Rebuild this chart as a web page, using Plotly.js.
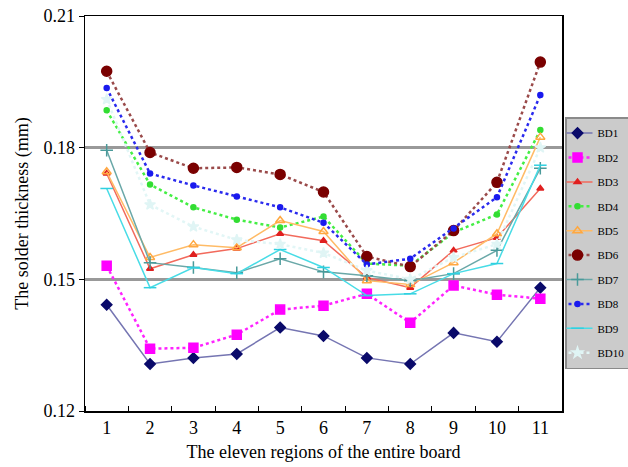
<!DOCTYPE html>
<html>
<head>
<meta charset="utf-8">
<script src="https://cdn.plot.ly/plotly-3.0.1.min.js"></script>
<style>html,body{margin:0;padding:0;background:#fff;}#chart{width:628px;height:467px;}</style>
</head>
<body>
<div id="chart"></div>
<script>
var regions = [1,2,3,4,5,6,7,8,9,10,11];
var seriesNames = ["BD1","BD2","BD3","BD4","BD5","BD6","BD7","BD8","BD9","BD10"];
var BD1  = [0.1442,0.1307,0.1321,0.1330,0.1390,0.1371,0.1321,0.1307,0.1378,0.1358,0.1481];
var BD2  = [0.1531,0.1342,0.1344,0.1374,0.1431,0.1440,0.1467,0.1401,0.1486,0.1465,0.1456];
var BD3  = [0.1741,0.1524,0.1556,0.1570,0.1604,0.1588,0.1504,0.1481,0.1566,0.1595,0.1707];
var BD4  = [0.1885,0.1716,0.1664,0.1636,0.1618,0.1643,0.1536,0.1531,0.1607,0.1648,0.1840];
var BD5  = [0.1745,0.1550,0.1579,0.1572,0.1634,0.1609,0.1497,0.1488,0.1538,0.1604,0.1824];
var BD6  = [0.1974,0.1789,0.1753,0.1755,0.1739,0.1699,0.1552,0.1529,0.1611,0.1721,0.1995];
var BD7  = [0.1794,0.1538,0.1527,0.1515,0.1547,0.1517,0.1508,0.1497,0.1513,0.1566,0.1753];
var BD8  = [0.1936,0.1741,0.1714,0.1689,0.1664,0.1629,0.1534,0.1547,0.1616,0.1687,0.1920];
var BD9  = [0.1707,0.1481,0.1527,0.1513,0.1568,0.1527,0.1463,0.1467,0.1513,0.1536,0.1760];
var BD10 = [0.1910,0.1670,0.1620,0.1590,0.1580,0.1560,0.1520,0.1500,0.1550,0.1580,0.1800];
var yTicks = [0.12,0.15,0.18,0.21];
var yTickText = ["0.12","0.15","0.18","0.21"];

var seriesValues = [BD1,BD2,BD3,BD4,BD5,BD6,BD7,BD8,BD9,BD10];
var styles = [
  {mc:'#0a0a6a', sym:'diamond', ms:8, lc:'#7575b2', dash:'solid', lw:1.5},
  {mc:'#ff00ff', sym:'square', ms:9, lc:'#ff22ff', dash:'dot', lw:2.5},
  {mc:'#e02020', sym:'triangle-up', ms:6, lc:'#f26a5c', dash:'solid', lw:1.5},
  {mc:'#33dd33', sym:'circle', ms:5, lc:'#44ee44', dash:'dot', lw:2.5},
  {mc:'#ffa840', sym:'triangle-up-open', ms:8, lc:'#ffbb66', dash:'solid', lw:1.5},
  {mc:'#7a0000', sym:'circle', ms:10, lc:'#9a4a4a', dash:'dot', lw:2.5},
  {mc:'#4a9a9a', sym:'cross-thin-open', ms:9, lc:'#6aa8a8', dash:'solid', lw:1.5},
  {mc:'#1a1aee', sym:'circle', ms:5, lc:'#2a2aee', dash:'dot', lw:2.5},
  {mc:'#30d0e0', sym:'line-ew-open', ms:9, lc:'#48dce6', dash:'solid', lw:1.5},
  {mc:'#e0f5f5', sym:'star', ms:8, lc:'#e2f6f6', dash:'dot', lw:2.5}
];

var traces = seriesNames.map(function(n,i){
  var s = styles[i];
  return {
    type:'scatter', mode:'lines+markers', name:n, legendgroup:n,
    x: regions, y: seriesValues[i],
    line:{color:s.lc, width:s.lw, dash:s.dash},
    marker:{color:s.mc, symbol:s.sym, size:s.ms, line:{color:s.mc, width:1.5}}
  };
});

var serif = '"Liberation Serif","Times New Roman",serif';
var layout = {
  width:628, height:467,
  margin:{l:85, r:66, t:16, b:56, autoexpand:false},
  paper_bgcolor:'#ffffff', plot_bgcolor:'#ffffff',
  font:{family:serif, color:'#000', size:18},
  showlegend:true,
  legend:{
    x:1.0063, xanchor:'left', y:0.744, yanchor:'top',
    bgcolor:'#cbcbcb', bordercolor:'#8a8a8a', borderwidth:1.5,
    font:{family:serif, size:11, color:'#000'},
    tracegroupgap:5.4, indentation:-9
  },
  xaxis:{
    range:[0.5,11.5], tickvals:regions, ticktext:regions.map(String),
    ticks:'', showgrid:false, zeroline:false,
    showline:true, linecolor:'#000', linewidth:1.5, mirror:true,
    tickfont:{family:serif, size:18, color:'#000'},
    minor:{tick0:0.5, dtick:1, ticks:'inside', ticklen:5, tickcolor:'#000', tickwidth:1, showgrid:false},
    title:{text:'The eleven regions of the entire board', font:{family:serif, size:18, color:'#000'}, standoff:8}
  },
  yaxis:{
    range:[0.12,0.21], tickvals:yTicks, ticktext:yTickText,
    ticks:'outside', ticklen:5, tickcolor:'#000', tickwidth:1,
    showgrid:true, gridcolor:'#999999', gridwidth:2.5, zeroline:false,
    showline:true, linecolor:'#000', linewidth:1.5, mirror:true,
    tickfont:{family:serif, size:18, color:'#000'},
    title:{text:'The solder thickness (mm)', font:{family:serif, size:18, color:'#000'}, standoff:10}
  }
};

Plotly.newPlot('chart', traces, layout, {displayModeBar:false, staticPlot:true});
</script>
</body>
</html>
